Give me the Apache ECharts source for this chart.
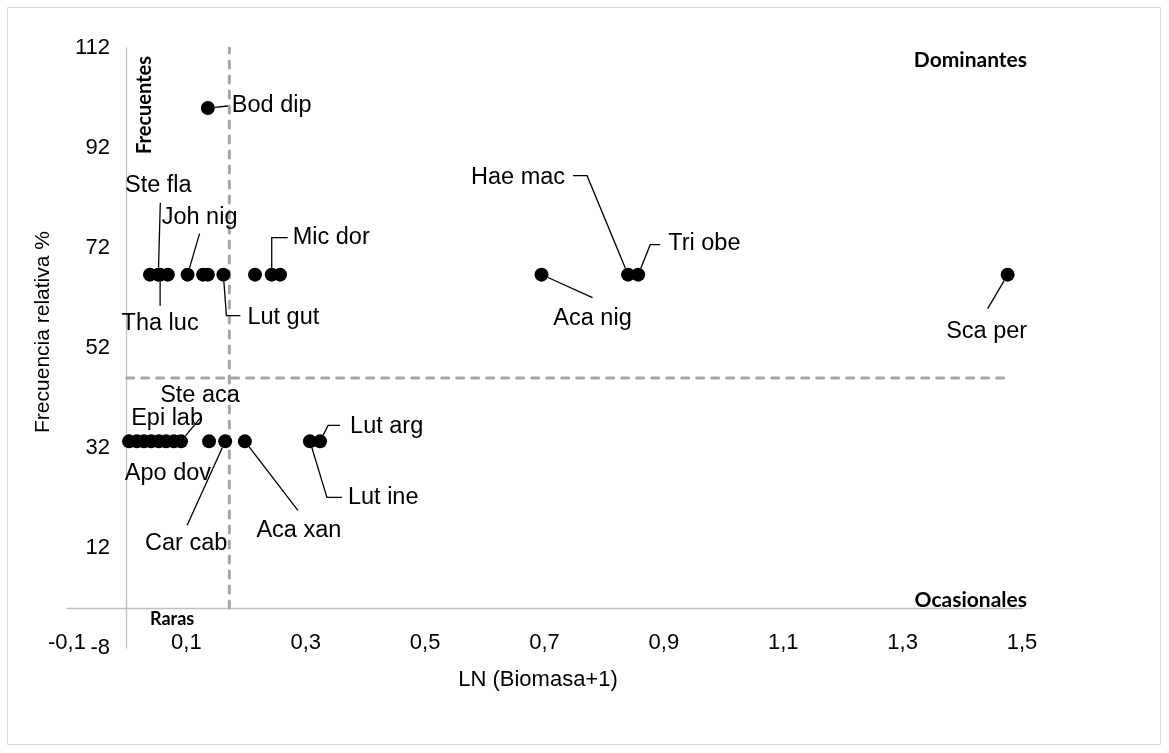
<!DOCTYPE html>
<html>
<head>
<meta charset="utf-8">
<script src="https://cdn.jsdelivr.net/npm/echarts@6/dist/echarts.min.js"></script>
<style>
  html, body { margin: 0; padding: 0; background: #ffffff; }
  #chart { width: 1169px; height: 753px; }
</style>
</head>
<body>
<div id="chart"></div>
<script>
// Species codes; an empty string marks a point drawn without a data label
const species = [
  'Bod dip',
  '', 'Ste fla', 'Tha luc', '', 'Joh nig', '', '', 'Lut gut', '', 'Mic dor', '',
  'Aca nig', 'Hae mac', 'Tri obe', 'Sca per',
  '', '', '', '', 'Apo dov', 'Epi lab', '', 'Ste aca', '', 'Car cab', 'Aca xan',
  'Lut ine', 'Lut arg'
];
// LN (Biomasa+1)
const lnBiomass = [
  0.136,
  0.039, 0.053, 0.056, 0.069, 0.102, 0.128, 0.136, 0.162, 0.215, 0.243, 0.257,
  0.695, 0.840, 0.857, 1.476,
  0.004, 0.017, 0.029, 0.041, 0.054, 0.066, 0.079, 0.091, 0.138, 0.165, 0.198,
  0.307, 0.324
];
// Frecuencia relativa %
const relFrequency = [
  100,
  66.67, 66.67, 66.67, 66.67, 66.67, 66.67, 66.67, 66.67, 66.67, 66.67, 66.67,
  66.67, 66.67, 66.67, 66.67,
  33.33, 33.33, 33.33, 33.33, 33.33, 33.33, 33.33, 33.33, 33.33, 33.33, 33.33,
  33.33, 33.33
];
const xTicks = [-0.1, 0.1, 0.3, 0.5, 0.7, 0.9, 1.1, 1.3, 1.5];
const yTicks = [-8, 12, 32, 52, 72, 92, 112];
// Cut-off values splitting the Olmstead-Tukey quadrants
const biomassCut = 0.172;
const frequencyCut = 46;
const quadrantNames = ['Dominantes', 'Frecuentes', 'Ocasionales', 'Raras'];

// Label placement in screen pixels relative to each marker centre:
// `at` = text anchor, `guide` = bend points of the leader line
const labelPlacement = {
  'Bod dip': { at: [24, -2], align: 'left', guide: [[20, -2]] },
  'Ste fla': { at: [0, -89], align: 'center', guide: [[2, -72]] },
  'Tha luc': { at: [0, 49], align: 'center', guide: [[0, 31]] },
  'Joh nig': { at: [12, -57], align: 'center', guide: [[12, -41]] },
  'Lut gut': { at: [24, 43], align: 'left', guide: [[3, 41], [17, 41]] },
  'Mic dor': { at: [21, -37], align: 'left', guide: [[0, -37], [16, -37]] },
  'Aca nig': { at: [51, 44], align: 'center', guide: [[51, 23]] },
  'Hae mac': { at: [-63, -97], align: 'right', guide: [[-41, -99], [-55, -99]] },
  'Tri obe': { at: [30, -31], align: 'left', guide: [[12, -30], [22, -30]] },
  'Sca per': { at: [-21, 57], align: 'center', guide: [[-20, 34]] },
  'Ste aca': { at: [19, -46], align: 'center', guide: [[19, -23]] },
  'Epi lab': { at: [1, -23], align: 'center', guide: [] },
  'Apo dov': { at: [9, 32], align: 'center', guide: [] },
  'Car cab': { at: [-39, 102], align: 'center', guide: [[-38, 84]] },
  'Aca xan': { at: [54, 89], align: 'center', guide: [[53, 69]] },
  'Lut arg': { at: [30, -15], align: 'left', guide: [[8, -16], [20, -16]] },
  'Lut ine': { at: [38, 56], align: 'left', guide: [[17, 56], [32, 56]] }
};

const MARKER = 14;
const SANS = '"Liberation Sans", Arial, sans-serif';
const LABEL_FONT = '23.5px ' + SANS;
const TICK_FONT = { fontFamily: SANS, fontSize: 22, color: '#000000' };
const QUAD_FONT = 'bold 21px Lato, "Open Sans", sans-serif';

const points = lnBiomass.map((x, i) => [x, relFrequency[i]]);
const labelled = [];
species.forEach((name, i) => {
  if (name) labelled.push([lnBiomass[i], relFrequency[i], name]);
});
const fmt = v => String(v).replace('.', ',');

const chart = echarts.init(document.getElementById('chart'), null, { renderer: 'canvas' });

chart.setOption({
  backgroundColor: '#ffffff',
  animation: false,
  grid: { left: 67, right: 147, top: 48, bottom: 105, containLabel: false },
  xAxis: {
    type: 'value',
    min: xTicks[0],
    max: xTicks[xTicks.length - 1],
    axisLine: { show: true, onZero: true, lineStyle: { color: '#bfbfbf', width: 1.3 } },
    axisTick: { show: false },
    splitLine: { show: false },
    axisLabel: Object.assign({
      customValues: xTicks,
      formatter: fmt,
      margin: -16,
      showMinLabel: true,
      showMaxLabel: true,
      hideOverlap: false
    }, TICK_FONT)
  },
  yAxis: {
    type: 'value',
    min: yTicks[0],
    max: yTicks[yTicks.length - 1],
    axisLine: { show: true, onZero: true, lineStyle: { color: '#bfbfbf', width: 1.3 } },
    axisTick: { show: false },
    splitLine: { show: false },
    axisLabel: Object.assign({
      customValues: yTicks,
      formatter: fmt,
      margin: -43,
      showMinLabel: true,
      showMaxLabel: true,
      hideOverlap: false
    }, TICK_FONT)
  },
  series: [
    {
      name: 'Corte biomasa',
      type: 'line',
      data: [[biomassCut, 0], [biomassCut, yTicks[yTicks.length - 1]]],
      symbol: 'none',
      silent: true,
      z: 1,
      lineStyle: { color: '#a6a6a6', width: 3, type: [7, 8], cap: 'round' }
    },
    {
      name: 'Corte frecuencia',
      type: 'line',
      data: [[0, frequencyCut], [Math.max(...lnBiomass), frequencyCut]],
      symbol: 'none',
      silent: true,
      z: 1,
      lineStyle: { color: '#a6a6a6', width: 3, type: [7, 8], cap: 'round' }
    },
    {
      name: 'Especies',
      type: 'scatter',
      data: points,
      symbol: 'circle',
      symbolSize: MARKER,
      z: 3,
      itemStyle: { color: '#000000', opacity: 1 }
    },
    {
      name: 'Etiquetas',
      type: 'custom',
      data: labelled,
      z: 4,
      silent: true,
      renderItem: (params, api) => {
        const name = labelled[params.dataIndex][2];
        const place = labelPlacement[name];
        const p = api.coord([api.value(0), api.value(1)]);
        const children = [];
        if (place && place.guide.length) {
          const g0 = place.guide[0];
          const len = Math.hypot(g0[0], g0[1]);
          const r = MARKER / 2;
          const pts = [[p[0] + g0[0] / len * r, p[1] + g0[1] / len * r]]
            .concat(place.guide.map(g => [p[0] + g[0], p[1] + g[1]]));
          children.push({
            type: 'polyline',
            shape: { points: pts },
            style: { stroke: '#000000', lineWidth: 1.3, fill: null }
          });
        }
        const at = place ? place.at : [10, 0];
        children.push({
          type: 'text',
          style: {
            text: name,
            x: p[0] + at[0],
            y: p[1] + at[1],
            font: LABEL_FONT,
            fill: '#000000',
            textAlign: place ? place.align : 'left',
            textVerticalAlign: 'middle',
            align: place ? place.align : 'left',
            verticalAlign: 'middle'
          }
        });
        return { type: 'group', children };
      }
    }
  ],
  graphic: [
    {
      type: 'rect',
      shape: { x: 7.5, y: 7.5, width: 1153, height: 737 },
      style: { fill: null, stroke: '#d9d9d9', lineWidth: 1 },
      silent: true
    },
    {
      type: 'text', x: 1027, y: 60,
      style: { text: quadrantNames[0], font: QUAD_FONT, fill: '#000', align: 'right', verticalAlign: 'middle' }
    },
    {
      type: 'text', x: 145, y: 105, rotation: Math.PI / 2,
      style: { text: quadrantNames[1], font: 'bold 20px Lato, "Open Sans", sans-serif', fill: '#000', align: 'center', verticalAlign: 'middle' }
    },
    {
      type: 'text', x: 1027, y: 600,
      style: { text: quadrantNames[2], font: QUAD_FONT, fill: '#000', align: 'right', verticalAlign: 'middle' }
    },
    {
      type: 'text', x: 150, y: 619,
      style: { text: quadrantNames[3], font: 'bold 18px Lato, "Open Sans", sans-serif', fill: '#000', align: 'left', verticalAlign: 'middle' }
    },
    {
      type: 'text', x: 538, y: 680,
      style: { text: 'LN (Biomasa+1)', font: '22px ' + SANS, fill: '#000', align: 'center', verticalAlign: 'middle' }
    },
    {
      type: 'text', x: 43, y: 332, rotation: Math.PI / 2,
      style: { text: 'Frecuencia relativa %', font: '21px ' + SANS, fill: '#000', align: 'center', verticalAlign: 'middle' }
    }
  ]
});
</script>
</body>
</html>
